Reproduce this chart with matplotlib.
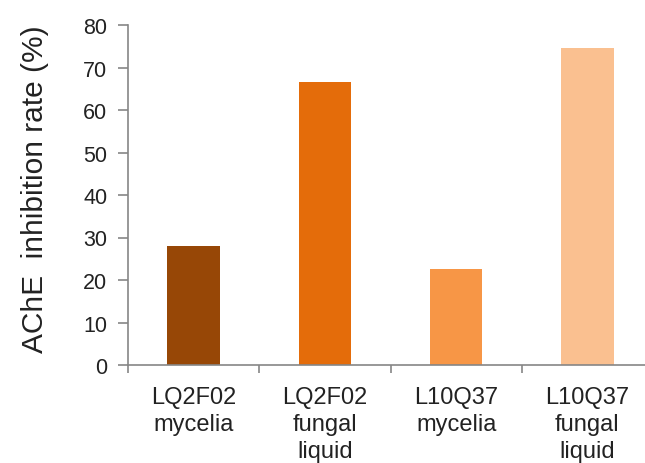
import numpy as np
import matplotlib
matplotlib.use("Agg")
import matplotlib.pyplot as plt

plt.rcParams['font.family'] = ['Liberation Sans', 'DejaVu Sans']

# data
labels = ['LQ2F02\nmycelia', 'LQ2F02\nfungal\nliquid', 'L10Q37\nmycelia', 'L10Q37\nfungal\nliquid']
values = [28.0, 66.7, 22.5, 74.7]
colors = ['#974706', '#E46C0A', '#F79646', '#FAC090']
yticks = [0, 10, 20, 30, 40, 50, 60, 70, 80]

fig = plt.figure(figsize=(6.45, 4.64), dpi=100)
ax = fig.add_axes([128/645, 1-366/464, 525/645, 340/464])

x = np.arange(len(values))
ax.bar(x, values, width=0.40, color=colors)

ax.set_xlim(-0.5, len(values)-0.5)
ax.set_ylim(0, 80)
ax.set_yticks(yticks)
ax.set_yticklabels([str(v) for v in yticks], fontsize=15.5, color='#222222')

# category labels centred, tick marks at category boundaries
ax.set_xticks(x)
ax.set_xticklabels(labels, fontsize=17, color='#222222', linespacing=1.3)
ax.tick_params(axis='x', which='major', length=0, pad=15)
ax.set_xticks(np.arange(-0.5, len(values), 1.0), minor=True)
ax.tick_params(axis='x', which='minor', length=6, color='#868686', width=1.2, direction='out')
ax.tick_params(axis='y', length=7, color='#868686', width=1.2, direction='out', pad=8)

for s in ['top', 'right']:
    ax.spines[s].set_visible(False)
for s in ['left', 'bottom']:
    ax.spines[s].set_color('#868686')
    ax.spines[s].set_linewidth(1.2)

ax.set_ylabel('AChE  inhibition rate (%)', fontsize=21.5, color='#222222')
ax.yaxis.set_label_coords(-0.150, 0.52)

fig.savefig('out.png', dpi=100)
